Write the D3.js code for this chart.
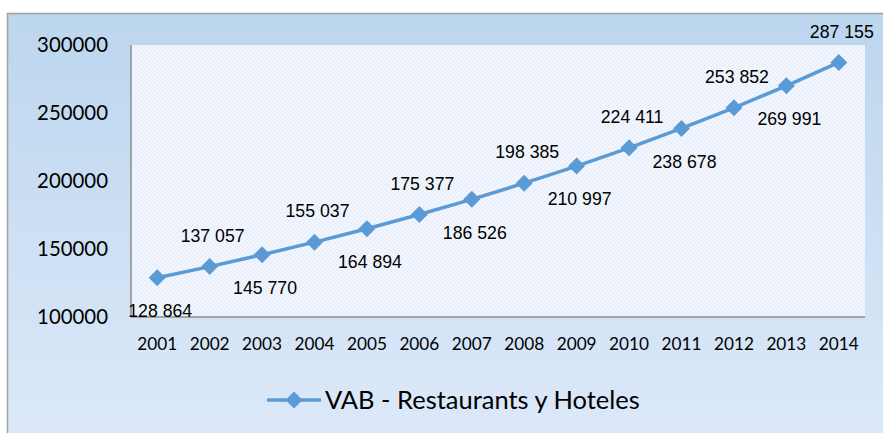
<!DOCTYPE html>
<html><head><meta charset="utf-8">
<script src="https://cdn.jsdelivr.net/npm/d3@7"></script>
<style>html,body{margin:0;padding:0;background:#fff;}svg{display:block;}</style>
</head><body>
<svg id="chart" width="883" height="433"></svg>
<script>
const years = ["2001","2002","2003","2004","2005","2006","2007","2008","2009","2010","2011","2012","2013","2014"];
const values = [128864,137057,145770,155037,164894,175377,186526,198385,210997,224411,238678,253852,269991,287155];
const valueLabels = ["128 864","137 057","145 770","155 037","164 894","175 377","186 526","198 385","210 997","224 411","238 678","253 852","269 991","287 155"];
const labelSide = ["below","above","below","above","below","above","below","above","below","above","below","above","below","above"];
const yTicks = [100000,150000,200000,250000,300000];
const seriesName = "VAB - Restaurants y Hoteles";

const svg = d3.select("#chart");
const W = 883, H = 433;
const plot = {left:131, right:865, top:45, bottom:317};
const lineColor = "#5b9bd5";

const defs = svg.append("defs");
const grad = defs.append("linearGradient").attr("id","bg").attr("x1",0).attr("y1",0).attr("x2",0).attr("y2",1);
grad.append("stop").attr("offset","0%").attr("stop-color","#bcd6ee");
grad.append("stop").attr("offset","100%").attr("stop-color","#dde9f9");
const pat = defs.append("pattern").attr("id","chk").attr("width",4).attr("height",4).attr("patternUnits","userSpaceOnUse");
pat.append("rect").attr("width",4).attr("height",4).attr("fill","#f3f7fd");
pat.append("rect").attr("width",2).attr("height",2).attr("fill","#e9f0fb");
pat.append("rect").attr("x",2).attr("y",2).attr("width",2).attr("height",2).attr("fill","#e9f0fb");

svg.append("rect").attr("x",7.5).attr("y",13.5).attr("width",W).attr("height",H)
  .attr("fill","url(#bg)").attr("stroke","#a0a0a0").attr("stroke-width",1.5);

svg.append("rect").attr("x",plot.left).attr("y",plot.top)
  .attr("width",plot.right-plot.left).attr("height",plot.bottom-plot.top)
  .attr("fill","url(#chk)");

const x = d3.scalePoint().domain(years).range([plot.left, plot.right]).padding(0.5);
const y = d3.scaleLinear().domain([100000,300000]).range([plot.bottom, plot.top]);

svg.append("line").attr("x1",plot.left).attr("x2",plot.left).attr("y1",plot.top).attr("y2",plot.bottom)
  .attr("stroke","#8c8c8c").attr("stroke-width",1.5);
svg.append("line").attr("x1",plot.left).attr("x2",plot.right).attr("y1",plot.bottom).attr("y2",plot.bottom)
  .attr("stroke","#8c8c8c").attr("stroke-width",1.5);

const axisFont = "Lato";
function fitText(sel, width){
  sel.each(function(){
    const n = this, fs = +n.getAttribute("font-size"), l = n.getComputedTextLength();
    if (l > 0) n.setAttribute("font-size", fs*width/l);
  });
}
const yl = svg.append("g").selectAll("text").data(yTicks).join("text")
  .attr("x",108).attr("y",d=>y(d)).attr("dy","0.35em")
  .attr("text-anchor","end").attr("font-family",axisFont).attr("font-size",20).attr("fill","#000")
  .text(d=>d3.format("d")(d));
fitText(yl.filter((d,i)=>i===0), 71);
yl.attr("font-size", yl.filter((d,i)=>i===0).attr("font-size"));

const xl = svg.append("g").selectAll("text").data(years).join("text")
  .attr("x",d=>x(d)).attr("y",plot.bottom+27).attr("dy","0.35em")
  .attr("text-anchor","middle").attr("font-family",axisFont).attr("font-size",17).attr("fill","#000")
  .text(d=>d);
fitText(xl.filter((d,i)=>i===0), 40);
xl.attr("font-size", xl.filter((d,i)=>i===0).attr("font-size"));

const pts = years.map((yr,i)=>({yr, v:values[i], lab:valueLabels[i], side:labelSide[i]}));
svg.append("path").datum(pts)
  .attr("d", d3.line().x(d=>x(d.yr)).y(d=>y(d.v)))
  .attr("fill","none").attr("stroke",lineColor).attr("stroke-width",3.5).attr("stroke-linejoin","round");

const r = 8.5;
const diamond = `M0,${-r}L${r},0L0,${r}L${-r},0Z`;
svg.append("g").selectAll("path").data(pts).join("path")
  .attr("d",diamond).attr("transform",d=>`translate(${x(d.yr)},${y(d.v)})`).attr("fill",lineColor);

const dl = svg.append("g").selectAll("text").data(pts).join("text")
  .attr("x",d=>x(d.yr)+3).attr("y",d=>y(d.v)+(d.side==="above"?-31:33)).attr("dy","0.35em")
  .attr("text-anchor","middle").attr("font-family","Liberation Sans")
  .attr("font-size",17.5).attr("fill","#000").text(d=>d.lab);
fitText(dl.filter((d,i)=>i===0), 64);
dl.attr("font-size", dl.filter((d,i)=>i===0).attr("font-size"));

const lg = svg.append("g").attr("transform","translate(0,400)");
lg.append("line").attr("x1",267).attr("x2",321).attr("y1",0).attr("y2",0).attr("stroke",lineColor).attr("stroke-width",3.5);
lg.append("path").attr("d",diamond).attr("transform","translate(294,0)").attr("fill",lineColor);
const lt = lg.append("text").attr("x",325).attr("y",0).attr("dy","0.35em")
  .attr("font-family",axisFont).attr("font-size",22).attr("fill","#000").text(seriesName);
fitText(lt, 315);
</script>
</body></html>
